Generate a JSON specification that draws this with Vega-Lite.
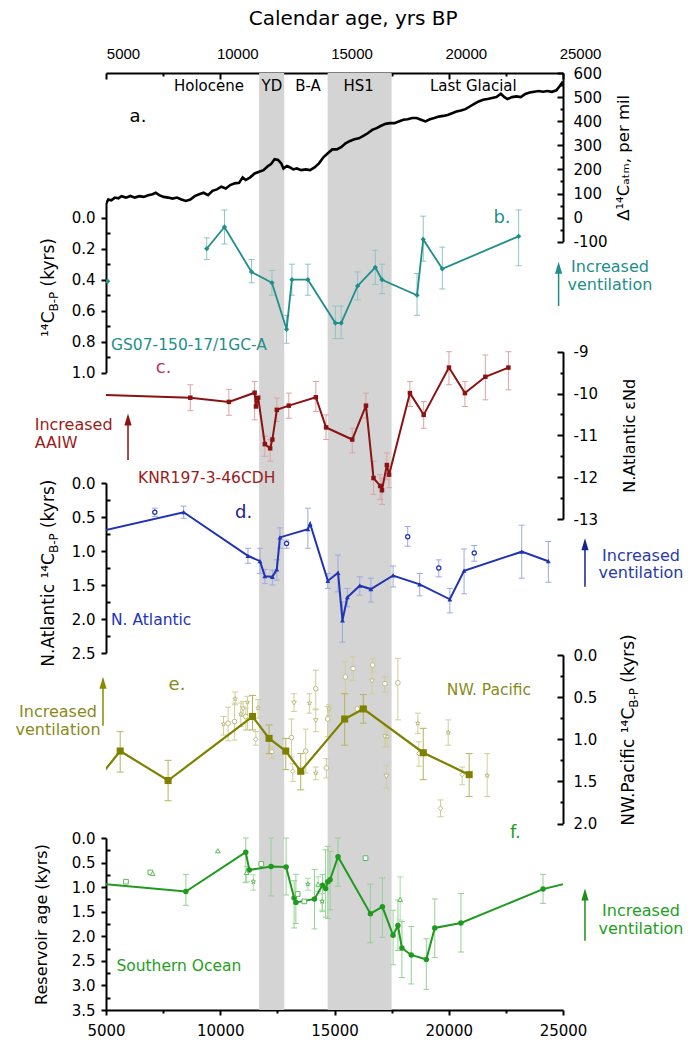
{
"$schema": "https://vega.github.io/schema/vega-lite/v6.json",
"width": 457, "height": 937,
"autosize": "none",
"padding": {"left": 106, "top": 73, "right": 129, "bottom": 34},
"config": {
  "view": {"stroke": null},
  "font": "DejaVu Sans",
  "axis": {"labelColor": "#000", "titleColor": "#000", "grid": false, "labelFont": "DejaVu Sans", "titleFont": "DejaVu Sans", "titleFontWeight": "normal", "labelOverlap": false, "labelFlush": false}
},
"datasets": {
  "atm": [
    {"year":5000,"d":58},{"year":5097,"d":75},{"year":5233,"d":72},{"year":5388,"d":83},{"year":5544,"d":80},{"year":5680,"d":89},{"year":5874,"d":83},{"year":6068,"d":90},{"year":6262,"d":83},{"year":6456,"d":89},{"year":6650,"d":86},{"year":6845,"d":93},{"year":7039,"d":97},{"year":7175,"d":103},{"year":7330,"d":93},{"year":7524,"d":86},{"year":7718,"d":83},{"year":7913,"d":79},{"year":8107,"d":83},{"year":8301,"d":75},{"year":8495,"d":69},{"year":8689,"d":75},{"year":8883,"d":89},{"year":9078,"d":97},{"year":9272,"d":103},{"year":9466,"d":93},{"year":9660,"d":111},{"year":9854,"d":117},{"year":10048,"d":128},{"year":10243,"d":121},{"year":10437,"d":135},{"year":10631,"d":142},{"year":10825,"d":144},{"year":10980,"d":167},{"year":11116,"d":156},{"year":11311,"d":167},{"year":11505,"d":183},{"year":11699,"d":190},{"year":11893,"d":197},{"year":12087,"d":214},{"year":12223,"d":222},{"year":12378,"d":242},{"year":12534,"d":239},{"year":12670,"d":225},{"year":12767,"d":204},{"year":12922,"d":214},{"year":13058,"d":208},{"year":13194,"d":200},{"year":13349,"d":204},{"year":13543,"d":197},{"year":13738,"d":200},{"year":13932,"d":197},{"year":14126,"d":208},{"year":14320,"d":225},{"year":14514,"d":250},{"year":14709,"d":267},{"year":14903,"d":283},{"year":15097,"d":283},{"year":15291,"d":292},{"year":15485,"d":308},{"year":15679,"d":318},{"year":15874,"d":325},{"year":16068,"d":329},{"year":16262,"d":339},{"year":16456,"d":350},{"year":16650,"d":364},{"year":16844,"d":371},{"year":17039,"d":381},{"year":17233,"d":389},{"year":17427,"d":392},{"year":17621,"d":392},{"year":17815,"d":399},{"year":18009,"d":406},{"year":18204,"d":408},{"year":18398,"d":413},{"year":18592,"d":413},{"year":18786,"d":406},{"year":18980,"d":399},{"year":19174,"d":408},{"year":19369,"d":413},{"year":19563,"d":419},{"year":19757,"d":422},{"year":19951,"d":426},{"year":20145,"d":433},{"year":20339,"d":440},{"year":20534,"d":444},{"year":20728,"d":450},{"year":20922,"d":461},{"year":21116,"d":472},{"year":21310,"d":482},{"year":21504,"d":489},{"year":21699,"d":492},{"year":21893,"d":496},{"year":22087,"d":500},{"year":22281,"d":514},{"year":22436,"d":500},{"year":22572,"d":492},{"year":22767,"d":500},{"year":22961,"d":503},{"year":23155,"d":500},{"year":23349,"d":513},{"year":23543,"d":519},{"year":23737,"d":522},{"year":23932,"d":525},{"year":24126,"d":522},{"year":24320,"d":525},{"year":24514,"d":522},{"year":24708,"d":528},{"year":24844,"d":544},{"year":25000,"d":565}
  ],
  "b": [
    {"year":9408,"age":0.20,"lo":0.13,"hi":0.27},{"year":10184,"age":0.06,"lo":-0.05,"hi":0.17},{"year":11369,"age":0.35,"lo":0.27,"hi":0.42},{"year":12262,"age":0.42,"lo":0.34,"hi":0.50},{"year":12903,"age":0.72,"lo":0.63,"hi":0.81},{"year":13136,"age":0.40,"lo":0.30,"hi":0.50},{"year":13835,"age":0.40,"lo":0.30,"hi":0.50},{"year":15039,"age":0.68,"lo":0.57,"hi":0.78},{"year":15291,"age":0.68,"lo":0.57,"hi":0.78},{"year":16010,"age":0.44,"lo":0.35,"hi":0.53},{"year":16786,"age":0.32,"lo":0.21,"hi":0.43},{"year":17078,"age":0.40,"lo":0.30,"hi":0.49},{"year":18612,"age":0.50,"lo":0.36,"hi":0.63},{"year":18883,"age":0.14,"lo":-0.01,"hi":0.28},{"year":19718,"age":0.33,"lo":0.19,"hi":0.46},{"year":23058,"age":0.12,"lo":-0.05,"hi":0.31}
  ],
  "c": [
    {"year":4000,"nd":-10.02,"lo":null,"hi":null},{"year":8689,"nd":-10.10,"lo":-10.41,"hi":-9.79},{"year":10378,"nd":-10.20,"lo":-10.52,"hi":-9.90},{"year":11505,"nd":-9.98,"lo":-10.63,"hi":-9.71},{"year":11563,"nd":-10.31,"lo":null,"hi":null},{"year":11660,"nd":-10.10,"lo":null,"hi":null},{"year":11951,"nd":-11.21,"lo":-11.50,"hi":-11.02},{"year":12184,"nd":-11.31,"lo":-11.62,"hi":-11.10},{"year":12281,"nd":-11.10,"lo":null,"hi":null},{"year":12476,"nd":-10.39,"lo":-10.67,"hi":-10.11},{"year":13000,"nd":-10.29,"lo":-10.59,"hi":-9.99},{"year":14184,"nd":-10.09,"lo":-10.43,"hi":-9.71},{"year":14631,"nd":-10.81,"lo":-11.10,"hi":-10.51},{"year":15776,"nd":-11.10,"lo":-11.42,"hi":-10.83},{"year":16378,"nd":-10.29,"lo":-10.59,"hi":-9.99},{"year":16707,"nd":-12.02,"lo":-12.41,"hi":-11.62},{"year":17000,"nd":-12.21,"lo":-12.53,"hi":-11.94},{"year":17078,"nd":-12.31,"lo":-12.65,"hi":-12.02},{"year":17291,"nd":-11.71,"lo":-12.06,"hi":-11.42},{"year":17388,"nd":-11.94,"lo":-12.25,"hi":-11.74},{"year":18301,"nd":-9.99,"lo":-10.31,"hi":-9.71},{"year":18903,"nd":-10.51,"lo":-10.83,"hi":-10.19},{"year":20009,"nd":-9.38,"lo":-9.79,"hi":-9.0},{"year":20708,"nd":-9.99,"lo":-10.31,"hi":-9.71},{"year":21601,"nd":-9.60,"lo":-10.15,"hi":-9.08},{"year":22611,"nd":-9.38,"lo":-9.91,"hi":-9.0}
  ],
  "d": [
    {"year":4000,"age":0.767,"lo":null,"hi":null},{"year":8398,"age":0.43,"lo":0.34,"hi":0.52},{"year":11213,"age":1.07,"lo":0.96,"hi":1.18},{"year":11738,"age":1.15,"lo":0.96,"hi":1.33},{"year":11951,"age":1.37,"lo":1.27,"hi":1.48},{"year":12281,"age":1.38,"lo":1.28,"hi":1.50},{"year":12476,"age":1.27,"lo":1.13,"hi":1.43},{"year":12612,"age":0.80,"lo":0.66,"hi":0.96},{"year":13835,"age":0.68,"lo":0.37,"hi":0.96},{"year":13932,"age":0.60,"lo":null,"hi":null},{"year":14708,"age":1.44,"lo":1.33,"hi":1.55},{"year":15155,"age":1.32,"lo":1.06,"hi":1.60},{"year":15349,"age":2.02,"lo":1.75,"hi":2.34},{"year":15563,"age":1.68,"lo":1.55,"hi":1.82},{"year":16106,"age":1.51,"lo":1.38,"hi":1.65},{"year":16592,"age":1.56,"lo":1.40,"hi":1.75},{"year":17563,"age":1.36,"lo":1.22,"hi":1.53},{"year":18728,"age":1.49,"lo":1.33,"hi":1.66},{"year":20048,"age":1.71,"lo":1.55,"hi":1.91},{"year":20670,"age":1.29,"lo":0.97,"hi":1.63},{"year":23194,"age":1.01,"lo":0.62,"hi":1.40},{"year":24359,"age":1.15,"lo":0.86,"hi":1.46}
  ],
  "dcirc": [
    {"year":7136,"age":0.43,"lo":0.37,"hi":0.49},{"year":12903,"age":0.89,"lo":0.84,"hi":0.96},{"year":18204,"age":0.79,"lo":0.64,"hi":0.93},{"year":19563,"age":1.25,"lo":1.13,"hi":1.38},{"year":21116,"age":1.03,"lo":0.92,"hi":1.15}
  ],
  "e": [
    {"year":4500,"age":1.52,"lo":null,"hi":null},{"year":5621,"age":1.14,"lo":0.91,"hi":1.39},{"year":7718,"age":1.49,"lo":1.25,"hi":1.73},{"year":11412,"age":0.73,"lo":0.48,"hi":0.89},{"year":12137,"age":0.99,"lo":0.83,"hi":1.17},{"year":12867,"age":1.14,"lo":0.99,"hi":1.36},{"year":13522,"age":1.38,"lo":1.17,"hi":1.60},{"year":15445,"age":0.76,"lo":0.46,"hi":1.07},{"year":16262,"age":0.64,"lo":0.47,"hi":0.81},{"year":18884,"age":1.16,"lo":0.87,"hi":1.48},{"year":20894,"age":1.42,"lo":1.17,"hi":1.68}
  ],
  "escat": [
    {"year":10144,"age":0.82,"lo":0.73,"hi":0.95,"kind":"star"},{"year":10345,"age":0.81,"lo":0.62,"hi":1.02,"kind":"circle"},{"year":10625,"age":0.79,"lo":0.57,"hi":1.01,"kind":"circle"},{"year":10650,"age":0.52,"lo":0.44,"hi":0.59,"kind":"star"},{"year":10900,"age":0.70,"lo":0.57,"hi":0.85,"kind":"star"},{"year":11001,"age":0.64,"lo":0.55,"hi":0.73,"kind":"triDown"},{"year":11119,"age":0.73,"lo":0.63,"hi":0.89,"kind":"circle"},{"year":11193,"age":0.56,"lo":0.49,"hi":0.89,"kind":"star"},{"year":11556,"age":1.00,"lo":0.91,"hi":1.07,"kind":"diamond"},{"year":11656,"age":0.63,"lo":0.53,"hi":0.75,"kind":"star"},{"year":12255,"age":1.15,"lo":1.09,"hi":1.23,"kind":"circle"},{"year":13116,"age":0.98,"lo":0.76,"hi":1.21,"kind":"circle"},{"year":13173,"age":1.38,"lo":1.29,"hi":1.50,"kind":"diamond"},{"year":13230,"age":0.57,"lo":0.46,"hi":0.67,"kind":"triDown"},{"year":13741,"age":1.14,"lo":0.88,"hi":1.40,"kind":"circle"},{"year":13902,"age":0.57,"lo":0.46,"hi":0.69,"kind":"star"},{"year":14178,"age":0.40,"lo":0.18,"hi":0.64,"kind":"circle"},{"year":14178,"age":0.78,"lo":0.65,"hi":0.91,"kind":"triDown"},{"year":14178,"age":1.40,"lo":1.33,"hi":1.48,"kind":"star"},{"year":14645,"age":1.34,"lo":1.23,"hi":1.46,"kind":"circle"},{"year":14702,"age":0.76,"lo":0.61,"hi":0.97,"kind":"circle"},{"year":14759,"age":0.64,"lo":0.59,"hi":0.72,"kind":"star"},{"year":15476,"age":0.26,"lo":0.08,"hi":0.46,"kind":"circle"},{"year":15815,"age":0.16,"lo":0.02,"hi":0.30,"kind":"circle"},{"year":16000,"age":0.64,"lo":null,"hi":null,"kind":"circle"},{"year":16638,"age":0.31,"lo":0.12,"hi":0.46,"kind":"triDown"},{"year":16670,"age":0.12,"lo":0.04,"hi":0.20,"kind":"circle"},{"year":17206,"age":0.34,"lo":0.26,"hi":0.44,"kind":"circle"},{"year":17206,"age":0.97,"lo":0.85,"hi":1.09,"kind":"triDown"},{"year":17311,"age":0.97,"lo":0.85,"hi":1.09,"kind":"star"},{"year":17267,"age":1.44,"lo":1.31,"hi":1.58,"kind":"triDown"},{"year":17774,"age":0.33,"lo":0.04,"hi":0.77,"kind":"circle"},{"year":18648,"age":0.81,"lo":0.69,"hi":0.93,"kind":"star"},{"year":18692,"age":1.17,"lo":1.03,"hi":1.32,"kind":"diamond"},{"year":19641,"age":1.82,"lo":1.72,"hi":1.92,"kind":"diamond"},{"year":19977,"age":0.92,"lo":0.77,"hi":1.07,"kind":"star"},{"year":20589,"age":1.42,"lo":1.33,"hi":1.54,"kind":"diamond"},{"year":21681,"age":1.43,"lo":1.17,"hi":1.68,"kind":"star"}
  ],
  "f": [
    {"year":4000,"age":0.897,"lo":null,"hi":null},{"year":8495,"age":1.09,"lo":0.74,"hi":1.37},{"year":11116,"age":0.29,"lo":0.0,"hi":0.91},{"year":11272,"age":0.65,"lo":null,"hi":null},{"year":12223,"age":0.58,"lo":0.0,"hi":1.18},{"year":12883,"age":0.59,"lo":0.0,"hi":1.16},{"year":13233,"age":1.22,"lo":0.87,"hi":1.83},{"year":13310,"age":1.31,"lo":0.74,"hi":1.74},{"year":14126,"age":1.24,"lo":0.64,"hi":1.85},{"year":14476,"age":0.96,"lo":0.74,"hi":1.5},{"year":14612,"age":1.03,"lo":0.24,"hi":1.61},{"year":14709,"age":0.89,"lo":0.17,"hi":1.64},{"year":14806,"age":0.85,"lo":0.27,"hi":1.46},{"year":15155,"age":0.38,"lo":0.0,"hi":0.98},{"year":16572,"age":1.54,"lo":0.94,"hi":2.13},{"year":17097,"age":1.40,"lo":0.81,"hi":2.02},{"year":17563,"age":1.98,"lo":1.47,"hi":2.58},{"year":17776,"age":1.78,"lo":1.26,"hi":2.29},{"year":17951,"age":2.24,"lo":1.70,"hi":2.84},{"year":18359,"age":2.38,"lo":1.80,"hi":2.97},{"year":19019,"age":2.47,"lo":2.05,"hi":3.08},{"year":19388,"age":1.83,"lo":1.24,"hi":2.43},{"year":20534,"age":1.73,"lo":1.13,"hi":2.32},{"year":24126,"age":1.04,"lo":0.74,"hi":1.33},{"year":26000,"age":0.826,"lo":null,"hi":null}
  ],
  "fscat": [
    {"year":5874,"age":0.89,"lo":null,"hi":null,"kind":"square"},{"year":6942,"age":0.70,"lo":null,"hi":null,"kind":"square"},{"year":7039,"age":0.72,"lo":null,"hi":null,"kind":"triUp"},{"year":9893,"age":0.26,"lo":null,"hi":null,"kind":"triUp"},{"year":11155,"age":0.70,"lo":0.58,"hi":0.89,"kind":"triUp"},{"year":11446,"age":0.89,"lo":0.75,"hi":1.06,"kind":"star"},{"year":11796,"age":0.53,"lo":null,"hi":null,"kind":"square"},{"year":13388,"age":1.14,"lo":null,"hi":null,"kind":"square"},{"year":13680,"age":1.29,"lo":null,"hi":null,"kind":"square"},{"year":13835,"age":0.94,"lo":0.82,"hi":1.06,"kind":"star"},{"year":14282,"age":0.94,"lo":0.79,"hi":1.09,"kind":"triUp"},{"year":14456,"age":1.29,"lo":1.13,"hi":1.47,"kind":"star"},{"year":16359,"age":0.41,"lo":null,"hi":null,"kind":"square"},{"year":17874,"age":1.25,"lo":0.79,"hi":1.67,"kind":"triUp"}
  ]
},
"resolve": {"scale": {"y": "independent"}, "axis": {"y": "independent", "x": "independent"}},
"layer": [
  {
    "data": {"values": [{"start": 11700, "end": 12800}, {"start": 14700, "end": 17500}]},
    "mark": {"type": "rect", "color": "#d4d4d4"},
    "encoding": {
      "x": {"field": "start", "type": "quantitative", "scale": {"domain": [5000, 25000], "nice": false, "zero": false},
        "axis": {"orient": "top", "domain": true, "ticks": true, "domainColor": "black", "tickColor": "black", "domainWidth": 2, "tickWidth": 2, "values": [5000,10000,15000,20000,25000], "labelExpr": "'' + datum.value", "tickSize": -6, "labelOffset": 17, "labelPadding": 18, "labelFont": "Liberation Sans", "labelFontSize": 15, "title": null}},
      "x2": {"field": "end"}
    }
  },
  {"data": {"name": "atm"}, "mark": {"type": "line", "color": "#000", "strokeWidth": 2.6, "clip": true},
   "encoding": {"x": {"field":"year","type":"quantitative","scale":{"domain":[5000,25000],"nice":false,"zero":false},
       "axis": {"orient": "top", "values": [7500,12500,17500,22500], "labels": false, "domain": false, "ticks": true, "tickColor": "black", "tickWidth": 2, "tickSize": -3, "title": null}},
     "y": {"field": "d", "type": "quantitative", "scale": {"domain": [-100, 600], "range": [168.7, 0], "nice": false, "zero": false},
       "axis": {"orient": "right", "domain": true, "ticks": true, "domainColor": "black", "tickColor": "black", "domainWidth": 2, "tickWidth": 2, "values": [-100,0,100,200,300,400,500,600], "labelExpr": "'' + datum.value", "tickSize": -6, "labelPadding": 16, "labelFontSize": 15, "title": "Δ¹⁴Cₐₜₘ, per mil", "titleFontSize": 16.5, "titleAngle": 270, "titleBaseline": "top", "titlePadding": 8}}}},
  {"data": {"values": [{"year": 15817, "v": 822, "t": "Calendar age, yrs BP"}]}, "mark": {"type": "text", "fontSize": 20, "color": "#000", "align": "center", "baseline": "middle"},
   "encoding": {"x": {"field":"year","type":"quantitative","scale":{"domain":[5000,25000],"nice":false,"zero":false},"axis":null}, "y": {"field": "v", "type": "quantitative", "scale": {"domain": [-100, 600], "range": [168.7, 0], "nice": false, "zero": false}, "axis": null}, "text": {"field": "t"}}},
  {"data": {"values": [{"year": 9507, "v": 547, "t": "Holocene"}, {"year": 12264, "v": 547, "t": "YD"}, {"year": 13839, "v": 547, "t": "B-A"}, {"year": 16057, "v": 547, "t": "HS1"}, {"year": 21074, "v": 547, "t": "Last Glacial"}]}, "mark": {"type": "text", "fontSize": 15, "color": "#000", "align": "center", "baseline": "middle"},
   "encoding": {"x": {"field":"year","type":"quantitative","scale":{"domain":[5000,25000],"nice":false,"zero":false},"axis":null}, "y": {"field": "v", "type": "quantitative", "scale": {"domain": [-100, 600], "range": [168.7, 0], "nice": false, "zero": false}, "axis": null}, "text": {"field": "t"}}},
  {"data": {"values": [{"year": 6400, "v": 417, "t": "a."}]}, "mark": {"type": "text", "fontSize": 18, "color": "#000", "align": "center", "baseline": "middle"},
   "encoding": {"x": {"field":"year","type":"quantitative","scale":{"domain":[5000,25000],"nice":false,"zero":false},"axis":null}, "y": {"field": "v", "type": "quantitative", "scale": {"domain": [-100, 600], "range": [168.7, 0], "nice": false, "zero": false},
     "axis": {"orient": "right", "values": [-50,50,150,250,350,450,550], "labels": false, "domain": false, "ticks": true, "tickColor": "black", "tickWidth": 2, "tickSize": -3, "title": null}}, "text": {"field": "t"}}},

  {"data": {"name": "b"}, "mark": {"type": "rule", "color": "#8cc6c4", "strokeWidth": 1, "clip": true},
   "encoding": {"x": {"field":"year","type":"quantitative","scale":{"domain":[5000,25000],"nice":false,"zero":false},"axis":null},
     "y": {"field": "lo", "type": "quantitative", "scale": {"domain": [-0.1, 1.0], "range": [129.2, 299.7], "nice": false, "zero": false},
       "axis": {"orient": "left", "domain": true, "ticks": true, "domainColor": "black", "tickColor": "black", "domainWidth": 2, "tickWidth": 2, "values": [0,0.2,0.4,0.6,0.8,1.0], "format": ".1f", "tickSize": 5, "labelPadding": 6, "labelFontSize": 15, "title": null}},
     "y2": {"field": "hi"}}},
  {"data": {"name": "b"}, "mark": {"type": "tick", "orient": "horizontal", "color": "#8cc6c4", "size": 6, "thickness": 1, "opacity": 1, "clip": true},
   "encoding": {"x": {"field":"year","type":"quantitative","scale":{"domain":[5000,25000],"nice":false,"zero":false},"axis":null}, "y": {"field": "lo", "type": "quantitative", "scale": {"domain": [-0.1, 1.0], "range": [129.2, 299.7], "nice": false, "zero": false},
     "axis": {"orient": "left", "values": [0.1,0.3,0.5,0.7,0.9], "labels": false, "domain": false, "ticks": true, "tickColor": "black", "tickWidth": 2, "tickSize": -4, "title": null}}}},
  {"data": {"name": "b"}, "mark": {"type": "tick", "orient": "horizontal", "color": "#8cc6c4", "size": 6, "thickness": 1, "opacity": 1, "clip": true},
   "encoding": {"x": {"field":"year","type":"quantitative","scale":{"domain":[5000,25000],"nice":false,"zero":false},"axis":null}, "y": {"field": "hi", "type": "quantitative", "scale": {"domain": [-0.1, 1.0], "range": [129.2, 299.7], "nice": false, "zero": false}, "axis": null}}},
  {"data": {"name": "b"}, "mark": {"type": "line", "color": "#1e8f8a", "strokeWidth": 1.8, "clip": true},
   "encoding": {"x": {"field":"year","type":"quantitative","scale":{"domain":[5000,25000],"nice":false,"zero":false},"axis":null}, "y": {"field": "age", "type": "quantitative", "scale": {"domain": [-0.1, 1.0], "range": [129.2, 299.7], "nice": false, "zero": false}, "axis": null}}},
  {"data": {"name": "b"}, "mark": {"type": "point", "shape": "diamond", "filled": true, "color": "#1e8f8a", "opacity": 1, "size": 28, "clip": true},
   "encoding": {"x": {"field":"year","type":"quantitative","scale":{"domain":[5000,25000],"nice":false,"zero":false},"axis":null}, "y": {"field": "age", "type": "quantitative", "scale": {"domain": [-0.1, 1.0], "range": [129.2, 299.7], "nice": false, "zero": false}, "axis": null}}},
  {"data": {"values": [{"year": 5060, "age": 0.41}]}, "mark": {"type": "point", "shape": "diamond", "filled": true, "color": "#1e8f8a", "opacity": 1, "size": 34, "clip": true},
   "encoding": {"x": {"field":"year","type":"quantitative","scale":{"domain":[5000,25000],"nice":false,"zero":false},"axis":null}, "y": {"field": "age", "type": "quantitative", "scale": {"domain": [-0.1, 1.0], "range": [129.2, 299.7], "nice": false, "zero": false}, "axis": null}}},
  {"data": {"values": [{"year": 22330, "v": 0.0, "t": "b."}]}, "mark": {"type": "text", "fontSize": 18, "color": "#1e8f8a", "align": "center", "baseline": "middle"},
   "encoding": {"x": {"field":"year","type":"quantitative","scale":{"domain":[5000,25000],"nice":false,"zero":false},"axis":null}, "y": {"field": "v", "type": "quantitative", "scale": {"domain": [-0.1, 1.0], "range": [129.2, 299.7], "nice": false, "zero": false}, "axis": null}, "text": {"field": "t"}}},
  {"data": {"values": [{"year": 5219, "v": 0.82, "t": "GS07-150-17/1GC-A"}]}, "mark": {"type": "text", "fontSize": 15.5, "color": "#1e8f8a", "align": "left", "baseline": "middle"},
   "encoding": {"x": {"field":"year","type":"quantitative","scale":{"domain":[5000,25000],"nice":false,"zero":false},"axis":null}, "y": {"field": "v", "type": "quantitative", "scale": {"domain": [-0.1, 1.0], "range": [129.2, 299.7], "nice": false, "zero": false}, "axis": null}, "text": {"field": "t"}}},
  {"data": {"values": [{"year": 27055, "v": 0.32, "t": "Increased"}, {"year": 27055, "v": 0.435, "t": "ventilation"}]}, "mark": {"type": "text", "fontSize": 16, "color": "#1e8f8a", "align": "center", "baseline": "middle"},
   "encoding": {"x": {"field":"year","type":"quantitative","scale":{"domain":[5000,25000],"nice":false,"zero":false},"axis":null}, "y": {"field": "v", "type": "quantitative", "scale": {"domain": [-0.1, 1.0], "range": [129.2, 299.7], "nice": false, "zero": false}, "axis": null}, "text": {"field": "t"}}},
  {"data": {"values": [{"year": 24807, "v": 0.57, "v2": 0.33}]}, "mark": {"type": "rule", "color": "#1e8f8a", "strokeWidth": 1.5},
   "encoding": {"x": {"field":"year","type":"quantitative","scale":{"domain":[5000,25000],"nice":false,"zero":false},"axis":null}, "y": {"field": "v", "type": "quantitative", "scale": {"domain": [-0.1, 1.0], "range": [129.2, 299.7], "nice": false, "zero": false}, "axis": null}, "y2": {"field": "v2"}}},
  {"data": {"values": [{"year": 24807, "v": 0.323}]}, "mark": {"type": "point", "shape": "M-0.6,1L0,-1L0.6,1Z", "filled": true, "size": 144, "color": "#1e8f8a", "opacity": 1},
   "encoding": {"x": {"field":"year","type":"quantitative","scale":{"domain":[5000,25000],"nice":false,"zero":false},"axis":null}, "y": {"field": "v", "type": "quantitative", "scale": {"domain": [-0.1, 1.0], "range": [129.2, 299.7], "nice": false, "zero": false}, "axis": null}}},
  {"data": {"values": [{"year": 2724, "v": 0.605, "t": "¹⁴C"}]}, "mark": {"type": "text", "fontSize": 17, "color": "#000", "align": "right", "baseline": "alphabetic", "angle": 270},
   "encoding": {"x": {"field":"year","type":"quantitative","scale":{"domain":[5000,25000],"nice":false,"zero":false},"axis":null}, "y": {"field": "v", "type": "quantitative", "scale": {"domain": [-0.1, 1.0], "range": [129.2, 299.7], "nice": false, "zero": false}, "axis": null}, "text": {"field": "t"}}},
  {"data": {"values": [{"year": 2724, "v": 0.605, "t": "B-P"}]}, "mark": {"type": "text", "fontSize": 12, "color": "#000", "align": "left", "baseline": "alphabetic", "angle": 270, "dy": 4},
   "encoding": {"x": {"field":"year","type":"quantitative","scale":{"domain":[5000,25000],"nice":false,"zero":false},"axis":null}, "y": {"field": "v", "type": "quantitative", "scale": {"domain": [-0.1, 1.0], "range": [129.2, 299.7], "nice": false, "zero": false}, "axis": null}, "text": {"field": "t"}}},
  {"data": {"values": [{"year": 2724, "v": 0.605, "t": "(kyrs)"}]}, "mark": {"type": "text", "fontSize": 17, "color": "#000", "align": "left", "baseline": "alphabetic", "angle": 270, "dx": 25},
   "encoding": {"x": {"field":"year","type":"quantitative","scale":{"domain":[5000,25000],"nice":false,"zero":false},"axis":null}, "y": {"field": "v", "type": "quantitative", "scale": {"domain": [-0.1, 1.0], "range": [129.2, 299.7], "nice": false, "zero": false}, "axis": null}, "text": {"field": "t"}}},

  {"data": {"name": "c"}, "transform": [{"filter": "datum.lo != null"}], "mark": {"type": "rule", "color": "#dca3a3", "strokeWidth": 1, "clip": true},
   "encoding": {"x": {"field":"year","type":"quantitative","scale":{"domain":[5000,25000],"nice":false,"zero":false},"axis":null},
     "y": {"field": "lo", "type": "quantitative", "scale": {"domain": [-13, -9], "range": [446, 278.7], "nice": false, "zero": false},
       "axis": {"orient": "right", "domain": true, "ticks": true, "domainColor": "black", "tickColor": "black", "domainWidth": 2, "tickWidth": 2, "values": [-13,-12,-11,-10,-9], "labelExpr": "'' + datum.value", "tickSize": -6, "labelPadding": 16, "labelFontSize": 15, "title": "N.Atlantic εNd", "titleFontSize": 16, "titleAngle": 270, "titleBaseline": "top", "titlePadding": 24}},
     "y2": {"field": "hi"}}},
  {"data": {"name": "c"}, "transform": [{"filter": "datum.lo != null"}], "mark": {"type": "tick", "orient": "horizontal", "color": "#dca3a3", "size": 6, "thickness": 1, "opacity": 1, "clip": true},
   "encoding": {"x": {"field":"year","type":"quantitative","scale":{"domain":[5000,25000],"nice":false,"zero":false},"axis":null}, "y": {"field": "lo", "type": "quantitative", "scale": {"domain": [-13, -9], "range": [446, 278.7], "nice": false, "zero": false},
     "axis": {"orient": "right", "values": [-12.5,-11.5,-10.5,-9.5], "labels": false, "domain": false, "ticks": true, "tickColor": "black", "tickWidth": 2, "tickSize": -3, "title": null}}}},
  {"data": {"name": "c"}, "transform": [{"filter": "datum.lo != null"}], "mark": {"type": "tick", "orient": "horizontal", "color": "#dca3a3", "size": 6, "thickness": 1, "opacity": 1, "clip": true},
   "encoding": {"x": {"field":"year","type":"quantitative","scale":{"domain":[5000,25000],"nice":false,"zero":false},"axis":null}, "y": {"field": "hi", "type": "quantitative", "scale": {"domain": [-13, -9], "range": [446, 278.7], "nice": false, "zero": false}, "axis": null}}},
  {"data": {"name": "c"}, "mark": {"type": "line", "color": "#8b1212", "strokeWidth": 2, "clip": true},
   "encoding": {"x": {"field":"year","type":"quantitative","scale":{"domain":[5000,25000],"nice":false,"zero":false},"axis":null}, "y": {"field": "nd", "type": "quantitative", "scale": {"domain": [-13, -9], "range": [446, 278.7], "nice": false, "zero": false}, "axis": null}}},
  {"data": {"name": "c"}, "mark": {"type": "point", "shape": "square", "filled": true, "color": "#8b1212", "opacity": 1, "size": 20, "clip": true},
   "encoding": {"x": {"field":"year","type":"quantitative","scale":{"domain":[5000,25000],"nice":false,"zero":false},"axis":null}, "y": {"field": "nd", "type": "quantitative", "scale": {"domain": [-13, -9], "range": [446, 278.7], "nice": false, "zero": false}, "axis": null}}},
  {"data": {"values": [{"year": 7520, "v": -9.4, "t": "c."}]}, "mark": {"type": "text", "fontSize": 18, "color": "#c0306a", "align": "center", "baseline": "middle"},
   "encoding": {"x": {"field":"year","type":"quantitative","scale":{"domain":[5000,25000],"nice":false,"zero":false},"axis":null}, "y": {"field": "v", "type": "quantitative", "scale": {"domain": [-13, -9], "range": [446, 278.7], "nice": false, "zero": false}, "axis": null}, "text": {"field": "t"}}},
  {"data": {"values": [{"year": 1880, "v": -10.75, "t": "Increased"}, {"year": 1880, "v": -11.19, "t": "AAIW"}]}, "mark": {"type": "text", "fontSize": 16, "color": "#9b1c1c", "align": "left", "baseline": "middle"},
   "encoding": {"x": {"field":"year","type":"quantitative","scale":{"domain":[5000,25000],"nice":false,"zero":false},"axis":null}, "y": {"field": "v", "type": "quantitative", "scale": {"domain": [-13, -9], "range": [446, 278.7], "nice": false, "zero": false}, "axis": null}, "text": {"field": "t"}}},
  {"data": {"values": [{"year": 9405, "v": -12.01, "t": "KNR197-3-46CDH"}]}, "mark": {"type": "text", "fontSize": 15.5, "color": "#9b1c1c", "align": "center", "baseline": "middle"},
   "encoding": {"x": {"field":"year","type":"quantitative","scale":{"domain":[5000,25000],"nice":false,"zero":false},"axis":null}, "y": {"field": "v", "type": "quantitative", "scale": {"domain": [-13, -9], "range": [446, 278.7], "nice": false, "zero": false}, "axis": null}, "text": {"field": "t"}}},
  {"data": {"values": [{"year": 5963, "v": -11.59, "v2": -10.65}]}, "mark": {"type": "rule", "color": "#8b1212", "strokeWidth": 1.5},
   "encoding": {"x": {"field":"year","type":"quantitative","scale":{"domain":[5000,25000],"nice":false,"zero":false},"axis":null}, "y": {"field": "v", "type": "quantitative", "scale": {"domain": [-13, -9], "range": [446, 278.7], "nice": false, "zero": false}, "axis": null}, "y2": {"field": "v2"}}},
  {"data": {"values": [{"year": 5963, "v": -10.62}]}, "mark": {"type": "point", "shape": "M-0.6,1L0,-1L0.6,1Z", "filled": true, "size": 144, "color": "#8b1212", "opacity": 1},
   "encoding": {"x": {"field":"year","type":"quantitative","scale":{"domain":[5000,25000],"nice":false,"zero":false},"axis":null}, "y": {"field": "v", "type": "quantitative", "scale": {"domain": [-13, -9], "range": [446, 278.7], "nice": false, "zero": false}, "axis": null}}},

  {"data": {"name": "d"}, "transform": [{"filter": "datum.lo != null"}], "mark": {"type": "rule", "color": "#9ea8e2", "strokeWidth": 1, "clip": true},
   "encoding": {"x": {"field":"year","type":"quantitative","scale":{"domain":[5000,25000],"nice":false,"zero":false},"axis":null},
     "y": {"field": "lo", "type": "quantitative", "scale": {"domain": [0, 2.5], "range": [410, 580], "nice": false, "zero": false},
       "axis": {"orient": "left", "domain": true, "ticks": true, "domainColor": "black", "tickColor": "black", "domainWidth": 2, "tickWidth": 2, "values": [0,0.5,1,1.5,2,2.5], "format": ".1f", "tickSize": 5, "labelPadding": 6, "labelFontSize": 15, "title": null}},
     "y2": {"field": "hi"}}},
  {"data": {"name": "d"}, "transform": [{"filter": "datum.lo != null"}], "mark": {"type": "tick", "orient": "horizontal", "color": "#9ea8e2", "size": 6, "thickness": 1, "opacity": 1, "clip": true},
   "encoding": {"x": {"field":"year","type":"quantitative","scale":{"domain":[5000,25000],"nice":false,"zero":false},"axis":null}, "y": {"field": "lo", "type": "quantitative", "scale": {"domain": [0, 2.5], "range": [410, 580], "nice": false, "zero": false},
     "axis": {"orient": "left", "values": [0.25,0.75,1.25,1.75,2.25], "labels": false, "domain": false, "ticks": true, "tickColor": "black", "tickWidth": 2, "tickSize": -4, "title": null}}}},
  {"data": {"name": "d"}, "transform": [{"filter": "datum.lo != null"}], "mark": {"type": "tick", "orient": "horizontal", "color": "#9ea8e2", "size": 6, "thickness": 1, "opacity": 1, "clip": true},
   "encoding": {"x": {"field":"year","type":"quantitative","scale":{"domain":[5000,25000],"nice":false,"zero":false},"axis":null}, "y": {"field": "hi", "type": "quantitative", "scale": {"domain": [0, 2.5], "range": [410, 580], "nice": false, "zero": false}, "axis": null}}},
  {"data": {"name": "dcirc"}, "mark": {"type": "rule", "color": "#9ea8e2", "strokeWidth": 1},
   "encoding": {"x": {"field":"year","type":"quantitative","scale":{"domain":[5000,25000],"nice":false,"zero":false},"axis":null}, "y": {"field": "lo", "type": "quantitative", "scale": {"domain": [0, 2.5], "range": [410, 580], "nice": false, "zero": false}, "axis": null}, "y2": {"field": "hi"}}},
  {"data": {"name": "dcirc"}, "mark": {"type": "tick", "orient": "horizontal", "color": "#9ea8e2", "size": 6, "thickness": 1, "opacity": 1},
   "encoding": {"x": {"field":"year","type":"quantitative","scale":{"domain":[5000,25000],"nice":false,"zero":false},"axis":null}, "y": {"field": "lo", "type": "quantitative", "scale": {"domain": [0, 2.5], "range": [410, 580], "nice": false, "zero": false}, "axis": null}}},
  {"data": {"name": "dcirc"}, "mark": {"type": "tick", "orient": "horizontal", "color": "#9ea8e2", "size": 6, "thickness": 1, "opacity": 1},
   "encoding": {"x": {"field":"year","type":"quantitative","scale":{"domain":[5000,25000],"nice":false,"zero":false},"axis":null}, "y": {"field": "hi", "type": "quantitative", "scale": {"domain": [0, 2.5], "range": [410, 580], "nice": false, "zero": false}, "axis": null}}},
  {"data": {"name": "d"}, "mark": {"type": "line", "color": "#1f33b5", "strokeWidth": 2, "clip": true},
   "encoding": {"x": {"field":"year","type":"quantitative","scale":{"domain":[5000,25000],"nice":false,"zero":false},"axis":null}, "y": {"field": "age", "type": "quantitative", "scale": {"domain": [0, 2.5], "range": [410, 580], "nice": false, "zero": false}, "axis": null}}},
  {"data": {"name": "d"}, "mark": {"type": "point", "shape": "triangle-up", "filled": true, "color": "#1f33b5", "opacity": 1, "size": 24, "clip": true},
   "encoding": {"x": {"field":"year","type":"quantitative","scale":{"domain":[5000,25000],"nice":false,"zero":false},"axis":null}, "y": {"field": "age", "type": "quantitative", "scale": {"domain": [0, 2.5], "range": [410, 580], "nice": false, "zero": false}, "axis": null}}},
  {"data": {"name": "dcirc"}, "mark": {"type": "point", "shape": "circle", "fill": "white", "stroke": "#1f33b5", "strokeWidth": 1.2, "opacity": 1, "fillOpacity": 1, "size": 18},
   "encoding": {"x": {"field":"year","type":"quantitative","scale":{"domain":[5000,25000],"nice":false,"zero":false},"axis":null}, "y": {"field": "age", "type": "quantitative", "scale": {"domain": [0, 2.5], "range": [410, 580], "nice": false, "zero": false}, "axis": null}}},
  {"data": {"values": [{"year": 11021, "v": 0.446, "t": "d."}]}, "mark": {"type": "text", "fontSize": 18, "color": "#1a2296", "align": "center", "baseline": "middle"},
   "encoding": {"x": {"field":"year","type":"quantitative","scale":{"domain":[5000,25000],"nice":false,"zero":false},"axis":null}, "y": {"field": "v", "type": "quantitative", "scale": {"domain": [0, 2.5], "range": [410, 580], "nice": false, "zero": false}, "axis": null}, "text": {"field": "t"}}},
  {"data": {"values": [{"year": 5219, "v": 2.01, "t": "N. Atlantic"}]}, "mark": {"type": "text", "fontSize": 15.5, "color": "#2233c0", "align": "left", "baseline": "middle"},
   "encoding": {"x": {"field":"year","type":"quantitative","scale":{"domain":[5000,25000],"nice":false,"zero":false},"axis":null}, "y": {"field": "v", "type": "quantitative", "scale": {"domain": [0, 2.5], "range": [410, 580], "nice": false, "zero": false}, "axis": null}, "text": {"field": "t"}}},
  {"data": {"values": [{"year": 28412, "v": 1.07, "t": "Increased"}, {"year": 28412, "v": 1.33, "t": "ventilation"}]}, "mark": {"type": "text", "fontSize": 16, "color": "#2a3aa8", "align": "center", "baseline": "middle"},
   "encoding": {"x": {"field":"year","type":"quantitative","scale":{"domain":[5000,25000],"nice":false,"zero":false},"axis":null}, "y": {"field": "v", "type": "quantitative", "scale": {"domain": [0, 2.5], "range": [410, 580], "nice": false, "zero": false}, "axis": null}, "text": {"field": "t"}}},
  {"data": {"values": [{"year": 25962, "v": 1.525, "v2": 0.92}]}, "mark": {"type": "rule", "color": "#14248a", "strokeWidth": 1.5},
   "encoding": {"x": {"field":"year","type":"quantitative","scale":{"domain":[5000,25000],"nice":false,"zero":false},"axis":null}, "y": {"field": "v", "type": "quantitative", "scale": {"domain": [0, 2.5], "range": [410, 580], "nice": false, "zero": false}, "axis": null}, "y2": {"field": "v2"}}},
  {"data": {"values": [{"year": 25962, "v": 0.90}]}, "mark": {"type": "point", "shape": "M-0.6,1L0,-1L0.6,1Z", "filled": true, "size": 144, "color": "#14248a", "opacity": 1},
   "encoding": {"x": {"field":"year","type":"quantitative","scale":{"domain":[5000,25000],"nice":false,"zero":false},"axis":null}, "y": {"field": "v", "type": "quantitative", "scale": {"domain": [0, 2.5], "range": [410, 580], "nice": false, "zero": false}, "axis": null}}},
  {"data": {"values": [{"year": 2724, "v": 1.03, "t": "N.Atlantic ¹⁴C"}]}, "mark": {"type": "text", "fontSize": 17, "color": "#000", "align": "right", "baseline": "alphabetic", "angle": 270},
   "encoding": {"x": {"field":"year","type":"quantitative","scale":{"domain":[5000,25000],"nice":false,"zero":false},"axis":null}, "y": {"field": "v", "type": "quantitative", "scale": {"domain": [0, 2.5], "range": [410, 580], "nice": false, "zero": false}, "axis": null}, "text": {"field": "t"}}},
  {"data": {"values": [{"year": 2724, "v": 1.03, "t": "B-P"}]}, "mark": {"type": "text", "fontSize": 12, "color": "#000", "align": "left", "baseline": "alphabetic", "angle": 270, "dy": 4},
   "encoding": {"x": {"field":"year","type":"quantitative","scale":{"domain":[5000,25000],"nice":false,"zero":false},"axis":null}, "y": {"field": "v", "type": "quantitative", "scale": {"domain": [0, 2.5], "range": [410, 580], "nice": false, "zero": false}, "axis": null}, "text": {"field": "t"}}},
  {"data": {"values": [{"year": 2724, "v": 1.03, "t": "(kyrs)"}]}, "mark": {"type": "text", "fontSize": 17, "color": "#000", "align": "left", "baseline": "alphabetic", "angle": 270, "dx": 25},
   "encoding": {"x": {"field":"year","type":"quantitative","scale":{"domain":[5000,25000],"nice":false,"zero":false},"axis":null}, "y": {"field": "v", "type": "quantitative", "scale": {"domain": [0, 2.5], "range": [410, 580], "nice": false, "zero": false}, "axis": null}, "text": {"field": "t"}}},

  {"data": {"name": "escat"}, "transform": [{"filter": "datum.lo != null"}], "mark": {"type": "rule", "color": "#cfcf98", "strokeWidth": 1, "clip": true},
   "encoding": {"x": {"field":"year","type":"quantitative","scale":{"domain":[5000,25000],"nice":false,"zero":false},"axis":null},
     "y": {"field": "lo", "type": "quantitative", "scale": {"domain": [0, 2], "range": [582, 750.5], "nice": false, "zero": false},
       "axis": {"orient": "right", "domain": true, "ticks": true, "domainColor": "black", "tickColor": "black", "domainWidth": 2, "tickWidth": 2, "values": [0,0.5,1,1.5,2], "format": ".1f", "tickSize": -6, "labelPadding": 16, "labelFontSize": 15, "title": null}},
     "y2": {"field": "hi"}}},
  {"data": {"name": "escat"}, "transform": [{"filter": "datum.lo != null"}], "mark": {"type": "tick", "orient": "horizontal", "color": "#cfcf98", "size": 6, "thickness": 1, "opacity": 1, "clip": true},
   "encoding": {"x": {"field":"year","type":"quantitative","scale":{"domain":[5000,25000],"nice":false,"zero":false},"axis":null}, "y": {"field": "lo", "type": "quantitative", "scale": {"domain": [0, 2], "range": [582, 750.5], "nice": false, "zero": false},
     "axis": {"orient": "right", "values": [0.25,0.75,1.25,1.75], "labels": false, "domain": false, "ticks": true, "tickColor": "black", "tickWidth": 2, "tickSize": -3, "title": null}}}},
  {"data": {"name": "escat"}, "transform": [{"filter": "datum.lo != null"}], "mark": {"type": "tick", "orient": "horizontal", "color": "#cfcf98", "size": 6, "thickness": 1, "opacity": 1, "clip": true},
   "encoding": {"x": {"field":"year","type":"quantitative","scale":{"domain":[5000,25000],"nice":false,"zero":false},"axis":null}, "y": {"field": "hi", "type": "quantitative", "scale": {"domain": [0, 2], "range": [582, 750.5], "nice": false, "zero": false}, "axis": null}}},
  {"data": {"name": "escat"}, "mark": {"type": "point", "fill": "white", "stroke": "#bdbd80", "strokeWidth": 1, "opacity": 1, "fillOpacity": 1, "size": 22, "clip": true},
   "encoding": {"x": {"field":"year","type":"quantitative","scale":{"domain":[5000,25000],"nice":false,"zero":false},"axis":null}, "y": {"field": "age", "type": "quantitative", "scale": {"domain": [0, 2], "range": [582, 750.5], "nice": false, "zero": false}, "axis": null},
     "shape": {"field": "kind", "type": "nominal", "legend": null, "scale": {"domain": ["circle","star","triDown","triUp","diamond","square"], "range": ["circle","M0,-1L0.235,-0.324L0.951,-0.309L0.38,0.124L0.588,0.809L0,0.4L-0.588,0.809L-0.38,0.124L-0.951,-0.309L-0.235,-0.324Z","triangle-down","triangle-up","diamond","square"]}}}},
  {"data": {"name": "e"}, "transform": [{"filter": "datum.lo != null"}], "mark": {"type": "rule", "color": "#b4b45e", "strokeWidth": 1, "clip": true},
   "encoding": {"x": {"field":"year","type":"quantitative","scale":{"domain":[5000,25000],"nice":false,"zero":false},"axis":null}, "y": {"field": "lo", "type": "quantitative", "scale": {"domain": [0, 2], "range": [582, 750.5], "nice": false, "zero": false}, "axis": null}, "y2": {"field": "hi"}}},
  {"data": {"name": "e"}, "transform": [{"filter": "datum.lo != null"}], "mark": {"type": "tick", "orient": "horizontal", "color": "#b4b45e", "size": 7, "thickness": 1, "opacity": 1, "clip": true},
   "encoding": {"x": {"field":"year","type":"quantitative","scale":{"domain":[5000,25000],"nice":false,"zero":false},"axis":null}, "y": {"field": "lo", "type": "quantitative", "scale": {"domain": [0, 2], "range": [582, 750.5], "nice": false, "zero": false}, "axis": null}}},
  {"data": {"name": "e"}, "transform": [{"filter": "datum.lo != null"}], "mark": {"type": "tick", "orient": "horizontal", "color": "#b4b45e", "size": 7, "thickness": 1, "opacity": 1, "clip": true},
   "encoding": {"x": {"field":"year","type":"quantitative","scale":{"domain":[5000,25000],"nice":false,"zero":false},"axis":null}, "y": {"field": "hi", "type": "quantitative", "scale": {"domain": [0, 2], "range": [582, 750.5], "nice": false, "zero": false}, "axis": null}}},
  {"data": {"name": "e"}, "mark": {"type": "line", "color": "#808000", "strokeWidth": 2.2, "clip": true},
   "encoding": {"x": {"field":"year","type":"quantitative","scale":{"domain":[5000,25000],"nice":false,"zero":false},"axis":null}, "y": {"field": "age", "type": "quantitative", "scale": {"domain": [0, 2], "range": [582, 750.5], "nice": false, "zero": false}, "axis": null}}},
  {"data": {"name": "e"}, "mark": {"type": "point", "shape": "square", "filled": true, "color": "#808000", "opacity": 1, "size": 50, "clip": true},
   "encoding": {"x": {"field":"year","type":"quantitative","scale":{"domain":[5000,25000],"nice":false,"zero":false},"axis":null}, "y": {"field": "age", "type": "quantitative", "scale": {"domain": [0, 2], "range": [582, 750.5], "nice": false, "zero": false}, "axis": null}}},
  {"data": {"values": [{"year": 8105, "v": 0.356, "t": "e."}]}, "mark": {"type": "text", "fontSize": 18, "color": "#8a8a1a", "align": "center", "baseline": "middle"},
   "encoding": {"x": {"field":"year","type":"quantitative","scale":{"domain":[5000,25000],"nice":false,"zero":false},"axis":null}, "y": {"field": "v", "type": "quantitative", "scale": {"domain": [0, 2], "range": [582, 750.5], "nice": false, "zero": false}, "axis": null}, "text": {"field": "t"}}},
  {"data": {"values": [{"year": 21760, "v": 0.42, "t": "NW. Pacific"}]}, "mark": {"type": "text", "fontSize": 15.5, "color": "#8a8a1a", "align": "center", "baseline": "middle"},
   "encoding": {"x": {"field":"year","type":"quantitative","scale":{"domain":[5000,25000],"nice":false,"zero":false},"axis":null}, "y": {"field": "v", "type": "quantitative", "scale": {"domain": [0, 2], "range": [582, 750.5], "nice": false, "zero": false}, "axis": null}, "text": {"field": "t"}}},
  {"data": {"values": [{"year": 2900, "v": 0.68, "t": "Increased"}, {"year": 2900, "v": 0.89, "t": "ventilation"}]}, "mark": {"type": "text", "fontSize": 16, "color": "#8a8a1a", "align": "center", "baseline": "middle"},
   "encoding": {"x": {"field":"year","type":"quantitative","scale":{"domain":[5000,25000],"nice":false,"zero":false},"axis":null}, "y": {"field": "v", "type": "quantitative", "scale": {"domain": [0, 2], "range": [582, 750.5], "nice": false, "zero": false}, "axis": null}, "text": {"field": "t"}}},
  {"data": {"values": [{"year": 4869, "v": 0.84, "v2": 0.35}]}, "mark": {"type": "rule", "color": "#8a8a00", "strokeWidth": 1.5},
   "encoding": {"x": {"field":"year","type":"quantitative","scale":{"domain":[5000,25000],"nice":false,"zero":false},"axis":null}, "y": {"field": "v", "type": "quantitative", "scale": {"domain": [0, 2], "range": [582, 750.5], "nice": false, "zero": false}, "axis": null}, "y2": {"field": "v2"}}},
  {"data": {"values": [{"year": 4869, "v": 0.33}]}, "mark": {"type": "point", "shape": "M-0.6,1L0,-1L0.6,1Z", "filled": true, "size": 144, "color": "#8a8a00", "opacity": 1},
   "encoding": {"x": {"field":"year","type":"quantitative","scale":{"domain":[5000,25000],"nice":false,"zero":false},"axis":null}, "y": {"field": "v", "type": "quantitative", "scale": {"domain": [0, 2], "range": [582, 750.5], "nice": false, "zero": false}, "axis": null}}},
  {"data": {"values": [{"year": 28105, "v": 0.626, "t": "NW.Pacific ¹⁴C"}]}, "mark": {"type": "text", "fontSize": 17, "color": "#000", "align": "right", "baseline": "alphabetic", "angle": 270},
   "encoding": {"x": {"field":"year","type":"quantitative","scale":{"domain":[5000,25000],"nice":false,"zero":false},"axis":null}, "y": {"field": "v", "type": "quantitative", "scale": {"domain": [0, 2], "range": [582, 750.5], "nice": false, "zero": false}, "axis": null}, "text": {"field": "t"}}},
  {"data": {"values": [{"year": 28105, "v": 0.626, "t": "B-P"}]}, "mark": {"type": "text", "fontSize": 12, "color": "#000", "align": "left", "baseline": "alphabetic", "angle": 270, "dy": 4},
   "encoding": {"x": {"field":"year","type":"quantitative","scale":{"domain":[5000,25000],"nice":false,"zero":false},"axis":null}, "y": {"field": "v", "type": "quantitative", "scale": {"domain": [0, 2], "range": [582, 750.5], "nice": false, "zero": false}, "axis": null}, "text": {"field": "t"}}},
  {"data": {"values": [{"year": 28105, "v": 0.626, "t": "(kyrs)"}]}, "mark": {"type": "text", "fontSize": 17, "color": "#000", "align": "left", "baseline": "alphabetic", "angle": 270, "dx": 25},
   "encoding": {"x": {"field":"year","type":"quantitative","scale":{"domain":[5000,25000],"nice":false,"zero":false},"axis":null}, "y": {"field": "v", "type": "quantitative", "scale": {"domain": [0, 2], "range": [582, 750.5], "nice": false, "zero": false}, "axis": null}, "text": {"field": "t"}}},

  {"data": {"name": "f"}, "transform": [{"filter": "datum.lo != null"}], "mark": {"type": "rule", "color": "#93d293", "strokeWidth": 1, "clip": true},
   "encoding": {"x": {"field":"year","type":"quantitative","scale":{"domain":[5000,25000],"nice":false,"zero":false},
       "axis": {"orient": "bottom", "domain": true, "ticks": true, "domainColor": "black", "tickColor": "black", "domainWidth": 2, "tickWidth": 2, "values": [5000,10000,15000,20000,25000], "labelExpr": "'' + datum.value", "tickSize": 5, "labelPadding": 8, "labelFontSize": 15, "title": null}},
     "y": {"field": "lo", "type": "quantitative", "scale": {"domain": [0, 3.5], "range": [765, 937], "nice": false, "zero": false},
       "axis": {"orient": "left", "domain": true, "ticks": true, "domainColor": "black", "tickColor": "black", "domainWidth": 2, "tickWidth": 2, "values": [0,0.5,1,1.5,2,2.5,3,3.5], "format": ".1f", "tickSize": 5, "labelPadding": 6, "labelFontSize": 15, "title": "Reservoir age (kyrs)", "titleFontSize": 16, "titlePadding": 22}},
     "y2": {"field": "hi"}}},
  {"data": {"name": "f"}, "transform": [{"filter": "datum.lo != null"}], "mark": {"type": "tick", "orient": "horizontal", "color": "#93d293", "size": 6, "thickness": 1, "opacity": 1, "clip": true},
   "encoding": {"x": {"field":"year","type":"quantitative","scale":{"domain":[5000,25000],"nice":false,"zero":false},
       "axis": {"orient": "bottom", "values": [7500,12500,17500,22500], "labels": false, "domain": false, "ticks": true, "tickColor": "black", "tickWidth": 2, "tickSize": 3, "title": null}},
     "y": {"field": "lo", "type": "quantitative", "scale": {"domain": [0, 3.5], "range": [765, 937], "nice": false, "zero": false},
       "axis": {"orient": "left", "values": [0.25,0.75,1.25,1.75,2.25,2.75,3.25], "labels": false, "domain": false, "ticks": true, "tickColor": "black", "tickWidth": 2, "tickSize": -4, "title": null}}}},
  {"data": {"name": "f"}, "transform": [{"filter": "datum.lo != null"}], "mark": {"type": "tick", "orient": "horizontal", "color": "#93d293", "size": 6, "thickness": 1, "opacity": 1, "clip": true},
   "encoding": {"x": {"field":"year","type":"quantitative","scale":{"domain":[5000,25000],"nice":false,"zero":false},"axis":null}, "y": {"field": "hi", "type": "quantitative", "scale": {"domain": [0, 3.5], "range": [765, 937], "nice": false, "zero": false}, "axis": null}}},
  {"data": {"name": "fscat"}, "transform": [{"filter": "datum.lo != null"}], "mark": {"type": "rule", "color": "#a8dca8", "strokeWidth": 1},
   "encoding": {"x": {"field":"year","type":"quantitative","scale":{"domain":[5000,25000],"nice":false,"zero":false},"axis":null}, "y": {"field": "lo", "type": "quantitative", "scale": {"domain": [0, 3.5], "range": [765, 937], "nice": false, "zero": false}, "axis": null}, "y2": {"field": "hi"}}},
  {"data": {"name": "fscat"}, "transform": [{"filter": "datum.lo != null"}], "mark": {"type": "tick", "orient": "horizontal", "color": "#a8dca8", "size": 6, "thickness": 1, "opacity": 1},
   "encoding": {"x": {"field":"year","type":"quantitative","scale":{"domain":[5000,25000],"nice":false,"zero":false},"axis":null}, "y": {"field": "lo", "type": "quantitative", "scale": {"domain": [0, 3.5], "range": [765, 937], "nice": false, "zero": false}, "axis": null}}},
  {"data": {"name": "fscat"}, "transform": [{"filter": "datum.lo != null"}], "mark": {"type": "tick", "orient": "horizontal", "color": "#a8dca8", "size": 6, "thickness": 1, "opacity": 1},
   "encoding": {"x": {"field":"year","type":"quantitative","scale":{"domain":[5000,25000],"nice":false,"zero":false},"axis":null}, "y": {"field": "hi", "type": "quantitative", "scale": {"domain": [0, 3.5], "range": [765, 937], "nice": false, "zero": false}, "axis": null}}},
  {"data": {"name": "f"}, "mark": {"type": "line", "color": "#1f9a1f", "strokeWidth": 2, "clip": true},
   "encoding": {"x": {"field":"year","type":"quantitative","scale":{"domain":[5000,25000],"nice":false,"zero":false},"axis":null}, "y": {"field": "age", "type": "quantitative", "scale": {"domain": [0, 3.5], "range": [765, 937], "nice": false, "zero": false}, "axis": null}}},
  {"data": {"name": "f"}, "mark": {"type": "point", "shape": "circle", "filled": true, "color": "#1f9a1f", "opacity": 1, "size": 30, "clip": true},
   "encoding": {"x": {"field":"year","type":"quantitative","scale":{"domain":[5000,25000],"nice":false,"zero":false},"axis":null}, "y": {"field": "age", "type": "quantitative", "scale": {"domain": [0, 3.5], "range": [765, 937], "nice": false, "zero": false}, "axis": null}}},
  {"data": {"name": "fscat"}, "mark": {"type": "point", "fill": "white", "stroke": "#5cb85c", "strokeWidth": 1, "opacity": 1, "fillOpacity": 1, "size": 22},
   "encoding": {"x": {"field":"year","type":"quantitative","scale":{"domain":[5000,25000],"nice":false,"zero":false},"axis":null}, "y": {"field": "age", "type": "quantitative", "scale": {"domain": [0, 3.5], "range": [765, 937], "nice": false, "zero": false}, "axis": null},
     "shape": {"field": "kind", "type": "nominal", "legend": null, "scale": {"domain": ["circle","star","triDown","triUp","diamond","square"], "range": ["circle","M0,-1L0.235,-0.324L0.951,-0.309L0.38,0.124L0.588,0.809L0,0.4L-0.588,0.809L-0.38,0.124L-0.951,-0.309L-0.235,-0.324Z","triangle-down","triangle-up","diamond","square"]}}}},
  {"data": {"values": [{"year": 22920, "v": -0.11, "t": "f."}]}, "mark": {"type": "text", "fontSize": 18, "color": "#23a023", "align": "center", "baseline": "middle"},
   "encoding": {"x": {"field":"year","type":"quantitative","scale":{"domain":[5000,25000],"nice":false,"zero":false},"axis":null}, "y": {"field": "v", "type": "quantitative", "scale": {"domain": [0, 3.5], "range": [765, 937], "nice": false, "zero": false}, "axis": null}, "text": {"field": "t"}}},
  {"data": {"values": [{"year": 5455, "v": 2.61, "t": "Southern Ocean"}]}, "mark": {"type": "text", "fontSize": 15.5, "color": "#23a023", "align": "left", "baseline": "middle"},
   "encoding": {"x": {"field":"year","type":"quantitative","scale":{"domain":[5000,25000],"nice":false,"zero":false},"axis":null}, "y": {"field": "v", "type": "quantitative", "scale": {"domain": [0, 3.5], "range": [765, 937], "nice": false, "zero": false}, "axis": null}, "text": {"field": "t"}}},
  {"data": {"values": [{"year": 28412, "v": 1.49, "t": "Increased"}, {"year": 28412, "v": 1.86, "t": "ventilation"}]}, "mark": {"type": "text", "fontSize": 16, "color": "#23a023", "align": "center", "baseline": "middle"},
   "encoding": {"x": {"field":"year","type":"quantitative","scale":{"domain":[5000,25000],"nice":false,"zero":false},"axis":null}, "y": {"field": "v", "type": "quantitative", "scale": {"domain": [0, 3.5], "range": [765, 937], "nice": false, "zero": false}, "axis": null}, "text": {"field": "t"}}},
  {"data": {"values": [{"year": 25962, "v": 2.09, "v2": 1.2}]}, "mark": {"type": "rule", "color": "#1a8f1a", "strokeWidth": 1.5},
   "encoding": {"x": {"field":"year","type":"quantitative","scale":{"domain":[5000,25000],"nice":false,"zero":false},"axis":null}, "y": {"field": "v", "type": "quantitative", "scale": {"domain": [0, 3.5], "range": [765, 937], "nice": false, "zero": false}, "axis": null}, "y2": {"field": "v2"}}},
  {"data": {"values": [{"year": 25962, "v": 1.15}]}, "mark": {"type": "point", "shape": "M-0.6,1L0,-1L0.6,1Z", "filled": true, "size": 144, "color": "#1a8f1a", "opacity": 1},
   "encoding": {"x": {"field":"year","type":"quantitative","scale":{"domain":[5000,25000],"nice":false,"zero":false},"axis":null}, "y": {"field": "v", "type": "quantitative", "scale": {"domain": [0, 3.5], "range": [765, 937], "nice": false, "zero": false}, "axis": null}}}
]
}
